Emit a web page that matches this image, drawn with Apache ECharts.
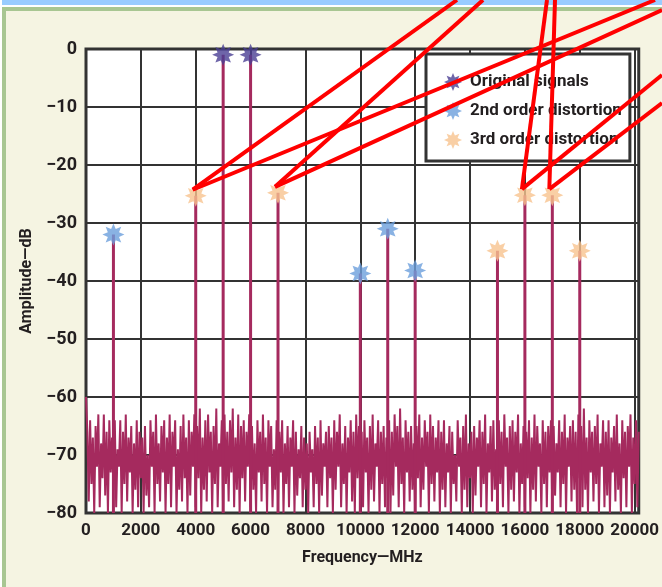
<!DOCTYPE html>
<html>
<head>
<meta charset="utf-8">
<script src="https://cdn.jsdelivr.net/npm/echarts/dist/echarts.min.js"></script>
<style>
  html, body { margin: 0; padding: 0; background: #f5f4e2; }
  #chart { width: 662px; height: 587px; }
</style>
</head>
<body>
<div id="chart"></div>
<script>
// spectrum (MHz, dB)
const noiseStart = 0;
const noiseStep = 50;
const noiseDb = [
  -60, -66, -78, -64, -75, -67, -80, -65, -72, -63, -79, -68, -74, -63, -77, -66, -80, -64, -73, -67,
  -76, -64, -79, -69, -72, -64, -80, -66, -75, -63, -78, -67, -73, -65, -80, -68, -76, -64, -79, -66,
  -74, -67, -80, -65, -77, -70, -79, -64, -72, -66, -80, -63, -75, -68, -78, -65, -73, -64, -80, -67,
  -75, -63, -79, -66, -72, -64, -80, -69, -76, -65, -78, -63, -74, -67, -80, -64, -77, -66, -72, -63,
  -79, -65, -74, -62, -80, -67, -76, -64, -78, -63, -73, -66, -80, -65, -75, -62, -79, -68, -72, -64,
  -80, -63, -75, -66, -78, -64, -73, -62, -79, -67, -76, -63, -80, -65, -74, -64, -78, -66, -72, -63,
  -79, -65, -76, -68, -80, -64, -73, -66, -78, -63, -75, -67, -80, -64, -72, -65, -79, -69, -76, -64,
  -78, -66, -73, -64, -80, -68, -75, -65, -79, -67, -72, -64, -80, -66, -77, -69, -74, -65, -79, -67,
  -76, -68, -80, -66, -73, -69, -79, -65, -75, -67, -80, -64, -77, -68, -72, -66, -79, -65, -74, -67,
  -80, -64, -76, -66, -72, -63, -79, -68, -75, -65, -80, -67, -73, -64, -78, -66, -80, -63, -74, -65,
  -77, -66, -79, -64, -73, -67, -80, -65, -76, -63, -78, -68, -72, -64, -80, -66, -75, -65, -79, -67,
  -74, -64, -80, -66, -77, -63, -72, -65, -79, -62, -75, -67, -80, -64, -73, -66, -78, -65, -76, -68,
  -80, -65, -74, -63, -79, -67, -76, -64, -72, -66, -80, -63, -75, -65, -78, -67, -73, -64, -80, -66,
  -76, -64, -79, -68, -73, -65, -80, -66, -75, -70, -78, -64, -72, -67, -80, -65, -76, -63, -79, -68,
  -74, -66, -80, -65, -77, -67, -72, -64, -79, -66, -75, -63, -80, -68, -73, -65, -78, -64, -76, -69,
  -80, -64, -75, -66, -79, -63, -72, -67, -80, -65, -76, -64, -78, -66, -73, -63, -80, -68, -75, -65,
  -79, -66, -74, -64, -80, -67, -76, -63, -78, -65, -72, -68, -80, -64, -75, -66, -79, -65, -73, -64,
  -80, -65, -77, -68, -73, -64, -79, -66, -75, -63, -80, -67, -72, -65, -78, -64, -76, -66, -80, -63,
  -74, -65, -79, -62, -76, -67, -80, -64, -73, -66, -78, -65, -75, -63, -80, -68, -72, -64, -79, -66,
  -77, -64, -80, -67, -73, -65, -78, -63, -76, -68, -80, -64, -74, -66, -79, -65, -72, -63, -80, -67,
  -75, -64, -79, -66
];

const originalFreq = [5000, 6000];
const originalDb = [-1, -1];
const secondFreq = [1000, 10000, 11000, 12000];
const secondDb = [-32, -38.7, -31, -38.2];
const thirdFreq = [4000, 7000, 15000, 16000, 17000, 18000];
const thirdDb = [-25.3, -24.8, -34.8, -25.2, -25.2, -34.8];

const seriesNames = ['Original signals', '2nd order distortion', '3rd order distortion'];
const yTicks = [0, -10, -20, -30, -40, -50, -60, -70, -80];

const font = "Roboto, 'Noto Sans', sans-serif";
const ink = '#231f20';
const trace = '#a52a5e';

function starPath(points, inner) {
  let d = '';
  for (let i = 0; i < points * 2; i++) {
    const r = i % 2 ? inner : 1;
    const a = Math.PI * i / points - Math.PI / 2;
    d += (i ? 'L' : 'M') + (r * Math.cos(a)).toFixed(3) + ' ' + (r * Math.sin(a)).toFixed(3);
  }
  return 'path://' + d + 'Z';
}
const star = starPath(8, 0.55);

const pair = (xs, ys) => xs.map((x, i) => [x, ys[i]]);
const noise = noiseDb.map((v, i) => [noiseStart + i * noiseStep, v]);
const stems = [].concat(pair(originalFreq, originalDb), pair(secondFreq, secondDb), pair(thirdFreq, thirdDb));

const chart = echarts.init(document.getElementById('chart'));

const option = {
  backgroundColor: '#f5f4e2',
  animation: false,
  textStyle: { fontFamily: font },
  grid: {
    left: 86, right: 19, top: 49, bottom: 74,
    show: true, backgroundColor: '#ffffff', borderColor: '#333333', borderWidth: 3
  },
  legend: {
    data: seriesNames.map(n => ({ name: n, icon: star })),
    orient: 'vertical',
    left: 426, top: 54,
    itemWidth: 18, itemHeight: 18, itemGap: 11,
    padding: [19, 8, 12, 18],
    backgroundColor: '#ffffff',
    borderColor: '#333333', borderWidth: 3, borderRadius: 0,
    textStyle: { fontFamily: font, fontSize: 17, fontWeight: 'bold', color: ink, padding: [0, 0, 0, 3] },
    z: 10
  },
  xAxis: {
    type: 'value', min: 0, max: 20150, interval: 2000,
    name: 'Frequency\u2014MHz', nameLocation: 'middle', nameGap: 37,
    nameTextStyle: { fontFamily: font, fontSize: 16, fontWeight: 'bold', color: ink },
    axisLine: { show: false }, axisTick: { show: false },
    axisLabel: {
      fontFamily: font, fontSize: 17, fontWeight: 'bold', color: ink, margin: 9,
      formatter: v => (v % 2000 === 0 ? String(v) : '')
    },
    splitLine: { show: true, lineStyle: { color: '#333333', width: 2 } }
  },
  yAxis: {
    type: 'value', min: -80, max: 0, interval: 10,
    name: 'Amplitude\u2014dB', nameLocation: 'middle', nameGap: 48,
    nameTextStyle: { fontFamily: font, fontSize: 16, fontWeight: 'bold', color: ink },
    axisLine: { show: false }, axisTick: { show: false },
    axisLabel: {
      fontFamily: font, fontSize: 18, fontWeight: 'bold', color: ink, margin: 9,
      formatter: v => (yTicks.includes(v) ? (v < 0 ? '\u2212' + Math.abs(v) : String(v)) : '')
    },
    splitLine: { show: true, lineStyle: { color: '#333333', width: 2 } }
  },
  series: [
    {
      name: 'noise', type: 'line', data: noise, showSymbol: false,
      lineStyle: { color: trace, width: 2 }, z: 2, silent: true
    },
    {
      name: 'stems', type: 'custom', data: stems, z: 3, silent: true,
      renderItem: (params, api) => {
        const x = api.value(0);
        const p0 = api.coord([x, -80]);
        const p1 = api.coord([x, api.value(1)]);
        return {
          type: 'line',
          shape: { x1: p0[0], y1: p0[1], x2: p1[0], y2: p1[1] },
          style: { stroke: trace, lineWidth: 3 }
        };
      }
    },
    {
      name: seriesNames[0], type: 'scatter', data: pair(originalFreq, originalDb),
      symbol: star, symbolSize: 22, itemStyle: { color: '#4a3f94' }, z: 5
    },
    {
      name: seriesNames[1], type: 'scatter', data: pair(secondFreq, secondDb),
      symbol: star, symbolSize: 22, itemStyle: { color: '#6c9fdc' }, z: 5
    },
    {
      name: seriesNames[2], type: 'scatter', data: pair(thirdFreq, thirdDb),
      symbol: star, symbolSize: 22, itemStyle: { color: '#f8c38e' }, z: 5
    }
  ]
};
chart.setOption(option);

// page frame and the red call-out lines drawn over the chart
const W = 662;
const hit = (f, d) => chart.convertToPixel({ gridIndex: 0 }, [f, d]);
const callouts = [
  [hit(thirdFreq[0], thirdDb[0]), [[457, 0], [655, 0]]],
  [hit(thirdFreq[1], thirdDb[1]), [[483, 0], [W, 10]]],
  [hit(thirdFreq[3], thirdDb[3]), [[547, 0], [W, 75]]],
  [hit(thirdFreq[4], thirdDb[4]), [[555, 0], [W, 103]]]
];
const graphics = [
  { type: 'rect', shape: { x: 0, y: 0, width: W, height: 5 }, style: { fill: '#99ccff' }, z: 1 },
  { type: 'rect', shape: { x: 0, y: 5, width: W, height: 2 }, style: { fill: '#ffffff' }, z: 1 },
  { type: 'rect', shape: { x: 0, y: 0, width: 2, height: 587 }, style: { fill: '#ffffff' }, z: 1 },
  { type: 'rect', shape: { x: 2, y: 7, width: W - 2, height: 4 }, style: { fill: '#a8c692' }, z: 1 },
  { type: 'rect', shape: { x: 2, y: 7, width: 4, height: 580 }, style: { fill: '#a8c692' }, z: 1 }
];
callouts.forEach(([p, ends]) => {
  ends.forEach(e => {
    graphics.push({
      type: 'line', z: 100,
      shape: { x1: p[0] - 3, y1: p[1] - 6, x2: e[0], y2: e[1] },
      style: { stroke: '#ff0000', lineWidth: 4 }
    });
  });
});
chart.setOption({ graphic: graphics });
</script>
</body>
</html>
